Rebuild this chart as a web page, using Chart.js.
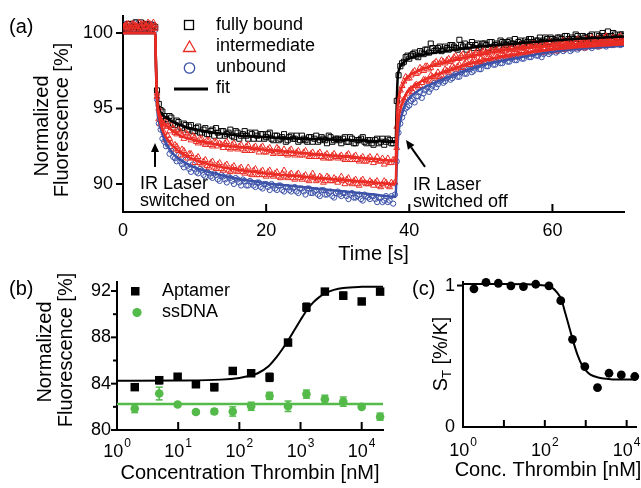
<!DOCTYPE html>
<html><head><meta charset="utf-8">
<script src="https://cdn.jsdelivr.net/npm/chart.js@4.4.1/dist/chart.umd.min.js"></script>
<style>
html,body{margin:0;padding:0;background:#fff;}
#wrap{position:relative;width:641px;height:488px;overflow:hidden;background:#fff;}
canvas{position:absolute;left:0;top:0;}
</style></head><body>
<div id="wrap">
<canvas id="ca" width="641" height="488"></canvas>
<canvas id="cb" width="641" height="488"></canvas>
<canvas id="cc" width="641" height="488"></canvas>
</div>
<script>
// ---------------- Panel (a) data ----------------
const time = [0,0.5,1,1.5,2,2.5,3,3.5,4,4.5,5,5.5,6,6.5,7,7.5,8,8.5,9,9.5,10,10.5,11,11.5,12,12.5,13,13.5,14,14.5,15,15.5,16,16.5,17,17.5,18,18.5,19,19.5,20,20.5,21,21.5,22,22.5,23,23.5,24,24.5,25,25.5,26,26.5,27,27.5,28,28.5,29,29.5,30,30.5,31,31.5,32,32.5,33,33.5,34,34.5,35,35.5,36,36.5,37,37.5,38,38.5,39,39.5,40,40.5,41,41.5,42,42.5,43,43.5,44,44.5,45,45.5,46,46.5,47,47.5,48,48.5,49,49.5,50,50.5,51,51.5,52,52.5,53,53.5,54,54.5,55,55.5,56,56.5,57,57.5,58,58.5,59,59.5,60,60.5,61,61.5,62,62.5,63,63.5,64,64.5,65,65.5,66,66.5,67,67.5,68,68.5,69,69.5,70];
const timeMid = [0.25,0.75,1.25,1.75,2.25,2.75,3.25,3.75,4.25,4.75,5.25,5.75,6.25,6.75,7.25,7.75,8.25,8.75,9.25,9.75,10.25,10.75,11.25,11.75,12.25,12.75,13.25,13.75,14.25,14.75,15.25,15.75,16.25,16.75,17.25,17.75,18.25,18.75,19.25,19.75,20.25,20.75,21.25,21.75,22.25,22.75,23.25,23.75,24.25,24.75,25.25,25.75,26.25,26.75,27.25,27.75,28.25,28.75,29.25,29.75,30.25,30.75,31.25,31.75,32.25,32.75,33.25,33.75,34.25,34.75,35.25,35.75,36.25,36.75,37.25,37.75,38.25,38.75,39.25,39.75,40.25,40.75,41.25,41.75,42.25,42.75,43.25,43.75,44.25,44.75,45.25,45.75,46.25,46.75,47.25,47.75,48.25,48.75,49.25,49.75,50.25,50.75,51.25,51.75,52.25,52.75,53.25,53.75,54.25,54.75,55.25,55.75,56.25,56.75,57.25,57.75,58.25,58.75,59.25,59.75,60.25,60.75,61.25,61.75,62.25,62.75,63.25,63.75,64.25,64.75,65.25,65.75,66.25,66.75,67.25,67.75,68.25,68.75,69.25,69.75];
const fullyBound = [100.5,100.3,100.6,100.2,100.4,100.7,100.3,100.5,100.2,100.4,
95.3,94.8,94.3,94.5,94.0,94.2,93.8,94.0,93.6,93.9,
93.5,93.8,93.4,93.7,93.3,93.6,93.7,93.2,93.5,93.3,
93.6,93.1,93.4,93.2,93.5,93.0,93.3,93.4,93.0,93.3,
93.1,93.4,92.9,93.2,93.0,93.3,92.9,93.2,93.0,92.8,
93.2,92.9,93.1,92.8,93.2,92.9,93.0,92.7,93.1,92.9,
93.0,92.7,93.1,92.8,93.0,92.7,92.9,93.1,92.7,92.9,
92.6,93.0,92.8,92.6,93.0,92.7,92.9,97.2,98.0,98.4,
98.3,98.6,98.5,98.8,98.6,98.9,99.3,98.8,99.0,98.8,
99.1,98.9,99.2,99.0,99.55,99.1,98.9,99.2,99.0,99.3,
99.1,99.3,99.0,99.4,99.2,99.1,99.4,99.2,99.5,99.3,
99.2,99.5,99.3,99.4,99.6,99.3,99.5,99.4,99.7,99.4,
99.6,99.5,99.7,99.4,99.8,99.5,99.6,99.8,99.5,99.7,
99.6,99.9,99.6,99.8,100.0,99.7,99.8,100.0,99.7,99.9,
99.8];
const fullyBoundMid = [100.3,100.6,100.4,100.7,100.3,100.5,100.6,100.2,100.5,96.2,
94.9,94.5,94.2,94.4,93.9,94.1,93.7,93.9,93.8,93.5,
93.7,93.4,93.6,93.3,93.5,93.2,93.4,93.5,93.2,93.4,
93.2,93.5,93.0,93.3,93.2,93.4,93.0,93.2,93.3,93.0,
93.3,93.0,93.2,92.9,93.1,92.8,93.1,93.0,93.2,92.9,
93.0,92.8,93.1,93.0,92.8,93.1,92.9,93.2,92.8,93.0,
92.9,93.0,92.8,93.1,92.7,92.9,93.0,92.8,92.9,92.7,
92.9,92.7,93.0,92.8,92.9,92.7,95.5,97.8,98.1,98.5,
98.5,98.7,98.4,98.7,98.9,98.7,99.0,98.9,99.1,98.9,
99.0,99.2,99.1,98.9,99.2,99.3,99.1,99.4,99.2,99.0,
99.3,99.2,99.4,99.1,99.3,99.5,99.3,99.4,99.3,99.6,
99.4,99.3,99.5,99.6,99.4,99.5,99.7,99.5,99.6,99.7,
99.5,99.7,99.6,99.8,99.6,99.7,99.9,99.6,99.8,99.7,
99.8,99.6,99.9,99.7,99.8,100.1,99.8,99.9,99.7,99.9];
const intermediate1 = [100.4,100.6,100.3,100.5,100.2,100.6,100.4,100.7,100.3,100.5,
95.0,94.0,94.1,93.5,93.7,93.3,93.5,93.0,93.3,92.9,
93.1,92.7,93.0,92.6,92.9,92.5,92.8,92.7,92.4,92.8,
92.3,92.7,92.3,92.6,92.2,92.6,92.2,92.5,92.1,92.5,
92.1,92.4,92.0,92.4,92.0,92.3,91.9,92.3,91.9,92.2,
91.9,92.2,91.8,92.1,91.8,92.1,91.7,92.0,91.7,92.0,
91.7,91.9,91.6,92.0,91.6,91.9,91.5,91.8,91.5,91.8,
91.4,91.8,91.5,91.3,91.7,91.4,91.6,95.8,96.5,97.1,
97.0,97.4,97.3,97.7,97.5,97.8,97.7,98.0,97.9,98.2,
98.0,98.3,98.2,98.5,98.3,98.6,98.4,98.7,98.5,98.8,
98.6,98.9,98.7,98.9,98.8,99.0,98.8,99.1,98.9,99.1,
98.9,99.2,99.0,99.2,99.1,99.3,99.0,99.3,99.2,99.4,
99.1,99.4,99.2,99.5,99.3,99.4,99.2,99.6,99.3,99.5,
99.4,99.7,99.3,99.6,99.4,99.8,99.5,99.7,99.4,99.8,
99.5];
const intermediate1Mid = [100.5,100.2,100.6,100.4,100.7,100.3,100.5,100.6,100.3,96.0,
94.6,93.9,93.8,93.9,93.4,93.6,93.2,93.4,93.1,93.2,
92.8,93.0,92.7,92.9,92.6,92.8,92.5,92.6,92.7,92.4,
92.6,92.4,92.5,92.3,92.5,92.2,92.4,92.3,92.4,92.1,
92.3,92.2,92.1,92.3,92.1,92.0,92.2,92.0,92.1,91.9,
92.1,91.9,92.0,91.8,92.0,91.8,91.9,91.7,91.9,91.8,
91.8,91.7,91.9,91.6,91.8,91.6,91.7,91.5,91.7,91.6,
91.6,91.5,91.7,91.5,91.4,91.6,93.8,96.2,96.8,97.0,
97.2,97.5,97.4,97.6,97.8,97.6,97.9,98.1,98.0,98.1,
98.2,98.1,98.4,98.3,98.5,98.4,98.6,98.5,98.7,98.6,
98.8,98.7,98.8,99.0,98.9,98.8,99.0,99.1,99.0,98.9,
99.1,99.0,99.2,99.1,99.3,99.2,99.1,99.3,99.2,99.4,
99.3,99.3,99.4,99.3,99.5,99.4,99.3,99.5,99.4,99.6,
99.5,99.4,99.6,99.5,99.7,99.5,99.6,99.5,99.7,99.6];
const intermediate2 = [100.3,100.5,100.2,100.6,100.4,100.3,100.6,100.2,100.5,100.3,
94.3,93.8,92.9,93.0,92.3,92.5,91.9,92.2,91.7,92.0,
91.4,91.8,91.3,91.6,91.1,91.5,91.0,91.4,90.9,91.3,
90.8,91.2,90.8,91.1,90.7,91.1,90.6,91.0,90.6,90.9,
90.5,90.9,90.5,90.8,90.4,90.9,90.4,90.7,90.3,90.7,
90.3,90.6,90.2,90.7,90.2,90.5,90.1,90.5,90.2,90.4,
90.1,90.5,90.0,90.4,90.0,90.3,89.9,90.3,90.0,90.2,
89.9,90.2,89.8,90.2,89.9,90.1,90.1,94.4,95.4,95.7,
96.2,96.1,96.6,96.5,96.9,96.8,97.2,97.0,97.4,97.2,
97.6,97.4,97.8,97.6,97.9,97.7,98.1,97.9,98.2,98.0,
98.3,98.1,98.4,98.2,98.5,98.3,98.6,98.4,98.7,98.4,
98.7,98.5,98.8,98.6,98.9,98.7,99.0,98.7,99.0,98.8,
99.1,98.8,99.1,98.9,99.2,99.0,99.2,99.0,99.3,99.0,
99.3,99.1,99.4,99.1,99.4,99.2,99.5,99.2,99.5,99.3,
99.4];
const intermediate2Mid = [100.4,100.6,100.3,100.5,100.2,100.6,100.4,100.3,100.7,95.8,
94.0,93.4,93.2,92.7,92.6,92.2,92.3,91.9,92.0,91.7,
91.7,91.4,91.5,91.2,91.4,91.1,91.3,91.0,91.2,90.9,
91.1,90.9,91.0,90.8,90.9,90.7,90.9,90.6,90.8,90.6,
90.8,90.6,90.7,90.5,90.7,90.5,90.6,90.4,90.6,90.4,
90.5,90.3,90.5,90.4,90.3,90.4,90.2,90.4,90.2,90.3,
90.3,90.2,90.3,90.1,90.2,90.0,90.2,90.1,90.0,90.1,
90.1,89.9,90.0,90.1,89.8,90.0,92.4,95.0,95.6,96.0,
96.3,96.5,96.4,96.7,96.9,96.8,97.1,97.2,97.1,97.4,
97.5,97.6,97.7,97.8,97.7,98.0,97.9,98.1,98.2,98.1,
98.2,98.4,98.3,98.5,98.4,98.6,98.5,98.6,98.5,98.7,
98.6,98.8,98.7,98.8,98.7,98.9,98.8,99.0,98.9,99.0,
98.9,99.1,99.0,99.1,99.0,99.2,99.1,99.2,99.1,99.3,
99.2,99.3,99.2,99.4,99.3,99.4,99.3,99.5,99.3,99.4];
const unbound = [100.4,100.2,100.5,100.3,100.6,100.2,100.4,100.3,100.6,100.2,
94.0,93.0,92.5,92.0,91.8,91.5,91.5,91.1,91.2,90.8,
91.0,90.7,90.9,90.5,90.7,90.4,90.6,90.2,90.5,90.1,
90.4,90.0,90.3,89.9,90.2,89.9,90.1,89.8,90.1,89.7,
90.0,89.6,89.9,89.6,89.9,89.5,89.8,89.5,89.8,89.4,
89.7,89.3,89.7,89.4,89.6,89.2,89.6,89.3,89.5,89.1,
89.5,89.2,89.4,89.0,89.4,89.1,89.3,88.9,89.2,89.0,
89.2,88.8,89.1,88.9,88.8,89.2,89.3,93.4,94.4,95.0,
95.2,95.6,95.8,96.1,96.0,96.4,96.3,96.7,96.6,96.9,
96.8,97.1,97.0,97.3,97.1,97.5,97.3,97.6,97.5,97.8,
97.6,98.0,97.8,98.1,97.9,98.2,98.0,98.3,98.1,98.4,
98.2,98.5,98.3,98.6,98.4,98.7,98.5,98.4,98.7,98.6,
98.8,98.7,98.9,98.8,99.0,98.8,99.1,98.9,99.1,99.0,
99.2,99.0,99.2,99.1,99.3,99.1,99.3,99.2,99.4,99.2,
99.3];
const unboundMid = [100.6,100.3,100.4,100.7,100.2,100.5,100.3,100.6,100.4,95.6,
93.6,92.8,92.6,92.2,91.7,91.9,91.3,91.6,91.0,91.3,
90.8,91.0,90.6,90.8,90.5,90.7,90.3,90.6,90.3,90.5,
90.2,90.4,90.1,90.3,89.9,90.2,89.9,90.1,89.8,90.0,
89.8,90.0,89.7,89.9,89.6,89.8,89.6,89.7,89.5,89.7,
89.5,89.7,89.4,89.5,89.3,89.6,89.3,89.4,89.2,89.4,
89.3,89.4,89.2,89.3,89.1,89.2,89.0,89.3,89.1,89.2,
89.0,89.1,88.8,89.2,88.9,88.7,91.5,94.0,94.7,95.1,
95.5,95.4,95.8,95.7,96.2,96.1,96.5,96.4,96.8,96.7,
97.0,96.9,97.2,97.1,97.4,97.3,97.6,97.4,97.7,97.6,
97.9,97.8,98.0,97.9,98.1,98.0,98.2,98.1,98.3,98.2,
98.4,98.3,98.5,98.4,98.6,98.5,98.7,98.6,98.8,98.7,
98.9,98.8,99.0,98.9,99.0,98.9,99.1,99.0,99.2,99.1,
99.1,99.2,99.1,99.3,99.2,99.3,99.2,99.4,99.3,99.4];
const fitTime = [0,4.5,4.6,4.7,4.85,5,5.5,6,7,8,10,12,14,16,18,20,25,30,35,38.1,38.2,38.35,38.6,39,39.6,41,43,45,50,55,60,65,70];
const fitBound = [100,100,98.2,96.5,95.5,95.05,94.6,94.4,94.1,93.9,93.6,93.45,93.32,93.22,93.15,93.1,93.0,92.93,92.85,92.8,94.5,96.8,97.6,97.95,98.2,98.45,98.65,98.8,99.1,99.3,99.5,99.65,99.77];
const fitInter1 = [100,100,98.0,96.3,95.2,94.8,94.2,93.9,93.5,93.2,92.9,92.7,92.55,92.45,92.35,92.25,92.05,91.85,91.65,91.55,93.0,95.0,95.9,96.45,97.0,97.45,97.8,98.05,98.6,98.95,99.15,99.3,99.4];
const fitInter2 = [100,100,97.9,96.0,94.9,94.5,93.6,93.1,92.5,92.1,91.6,91.3,91.1,90.95,90.82,90.7,90.5,90.3,90.1,90.0,91.5,93.5,94.6,95.3,96.0,96.6,97.1,97.45,98.15,98.6,98.9,99.1,99.25];
const fitUnbound = [100,100,97.8,95.8,94.6,94.2,93.3,92.7,92.0,91.6,91.1,90.8,90.55,90.35,90.2,90.05,89.8,89.55,89.3,89.15,90.5,92.5,93.8,94.65,95.45,96.1,96.6,97.0,97.85,98.35,98.75,99.0,99.15];
const xTicksA = [0,20,40,60];
const yTicksA = [90,95,100];

// ---------------- Panel (b) data ----------------
const concB = [1.95,4.9,9.8,19.5,39,78,156,312,625,1250,2500,5000,10000,20000];
const aptamer = [83.7,84.3,84.6,83.95,83.7,85.1,84.9,84.55,87.55,90.6,91.95,91.6,91.1,91.95];
const aptamerErr = [0.2,0.3,0.15,0.15,0.3,0.1,0.15,0.35,0.25,0.35,0.15,0.3,0.15,0.15];
const ssDNA = [81.85,83.15,82.2,81.55,81.6,81.6,82.05,82.95,82.05,83.1,82.65,82.45,82.0,81.15];
const ssDNAErr = [0.35,0.55,0.15,0.15,0.2,0.4,0.35,0.3,0.45,0.35,0.35,0.4,0.15,0.3];
const fitConcB = [1,10,50,100,150,200,300,400,500,630,800,1000,1250,1600,2000,2500,3500,5000,10000,22300];
const aptamerFit = [84.25,84.27,84.35,84.5,84.68,84.9,85.5,86.25,86.95,87.75,88.65,89.5,90.3,91.0,91.45,91.8,92.1,92.27,92.36,92.38];
const ssFitConc = [1,22300];
const ssDNAFit = [82.25,82.25];
const yTicksB = [80,84,88,92];
const yMinorB = [82,86,90];
const xExpB = [0,1,2,3,4];

// ---------------- Panel (c) data ----------------
const concC = [1.85,3.65,7.3,14.8,30,60,126,245,475,950,1940,3700,7400,15800];
const soretST = [0.977,1.023,1.016,0.998,0.993,1.009,0.998,0.893,0.62,0.427,0.278,0.38,0.368,0.357];
const fitConcC = [1,10,50,100,150,200,250,320,400,500,630,800,1000,1300,2000,4000,10000,17500];
const soretFit = [1.01,1.01,1.008,1.0,0.985,0.95,0.905,0.8,0.7,0.6,0.51,0.44,0.4,0.37,0.35,0.338,0.335,0.335];
const xExpC = [0,2,4];
const xTickExpC = [1,2,3,4];

// ---------------- styling ----------------
const RED = 'rgb(234,44,36)';
const BLUE = 'rgb(60,82,168)';
const GREEN = 'rgb(84,186,74)';
const FONT = '"Liberation Sans", Arial, Helvetica, sans-serif';

function pts(xs, ys){ return xs.map((v,i)=>({x:v, y:ys[i]})); }
function setFont(ctx,s){ ctx.font = s+'px '+FONT; }
function text(ctx,s,x,y,size,align,base){ setFont(ctx,size); ctx.fillStyle='#000'; ctx.textAlign=align||'center'; ctx.textBaseline=base||'middle'; ctx.fillText(s,x,y); }
function vtext(ctx,s,cx,cy,size){ ctx.save(); ctx.translate(cx,cy); ctx.rotate(-Math.PI/2); text(ctx,s,0,0,size,'center','middle'); ctx.restore(); }
function seg(ctx,x1,y1,x2,y2,w,c){ ctx.beginPath(); ctx.moveTo(x1,y1); ctx.lineTo(x2,y2); ctx.lineWidth=w; ctx.strokeStyle=c||'#000'; ctx.stroke(); }
function powLabel(ctx,exp,cx,cy,size){
  setFont(ctx,size); const w1=ctx.measureText('10').width;
  const ss=Math.round(size*0.68); setFont(ctx,ss); const w2=ctx.measureText(String(exp)).width;
  const x0=cx-(w1+w2+1)/2;
  ctx.fillStyle='#000'; ctx.textAlign='left'; ctx.textBaseline='alphabetic';
  setFont(ctx,size); ctx.fillText('10',x0,cy+size*0.36);
  setFont(ctx,ss); ctx.fillText(String(exp),x0+w1+1,cy-size*0.2);
}
function arrow(ctx,x1,y1,x2,y2){
  const ang=Math.atan2(y2-y1,x2-x1), hl=9, hw=4;
  const bx=x2-Math.cos(ang)*hl, by=y2-Math.sin(ang)*hl;
  seg(ctx,x1,y1,bx,by,2);
  ctx.beginPath(); ctx.moveTo(x2,y2);
  ctx.lineTo(bx+Math.sin(ang)*hw, by-Math.cos(ang)*hw);
  ctx.lineTo(bx-Math.sin(ang)*hw, by+Math.cos(ang)*hw);
  ctx.closePath(); ctx.fillStyle='#000'; ctx.fill();
}
function scaleCfg(type,min,max,horiz){
  return {type, min, max, ticks:{display:false}, grid:{display:false},
    border:{display:true,color:'#000',width:2},
    afterFit(s){ if(horiz) s.height=0; else s.width=0; }};
}
const baseOpts = (pad)=>({responsive:false, animation:false, events:[], devicePixelRatio:1,
  layout:{padding:pad}, plugins:{legend:{display:false}, tooltip:{enabled:false}}});

// annotation positions in data units (panel a)
const annotOn = {x:4.47, yTail:91.13, yHead:92.72, textX:2.38, line1:89.67, line2:88.54};
const annotOff = {xTail:42.2, yTail:91.13, xHead:39.54, yHead:92.91, textX:40.52, line1:89.6, line2:88.5};

// ---------------- Chart (a) ----------------
const decoA = {id:'decoA', afterDraw(chart){
  const {ctx, chartArea:a, scales:{x,y}} = chart; ctx.save();
  yTicksA.forEach(v=>{ const py=y.getPixelForValue(v); seg(ctx,a.left-7,py,a.left,py,2); text(ctx,String(v),a.left-10,py,18,'right','middle'); });
  xTicksA.forEach(v=>{ const px=x.getPixelForValue(v); if(v!==0) seg(ctx,px,a.bottom,px,a.bottom-8,2); text(ctx,String(v),px,231,18,'center','middle'); });
  text(ctx,'Time [s]',(a.left+a.right)/2,254,20,'center','middle');
  vtext(ctx,'Normalized',42,126,20);
  vtext(ctx,'Fluorescence [%]',62,120,20);
  text(ctx,'(a)',9,27,20,'left','middle');
  // legend
  ctx.lineWidth=1.3; ctx.strokeStyle='#000'; ctx.strokeRect(184.5,20.5,9,9);
  ctx.strokeStyle=RED; ctx.beginPath(); ctx.moveTo(189.5,41); ctx.lineTo(183.5,51.5); ctx.lineTo(195.5,51.5); ctx.closePath(); ctx.stroke();
  ctx.strokeStyle=BLUE; ctx.beginPath(); ctx.arc(189.5,68,5.2,0,Math.PI*2); ctx.stroke();
  seg(ctx,174,89,208,89,3);
  text(ctx,'fully bound',216,25,18,'left','middle');
  text(ctx,'intermediate',216,46,18,'left','middle');
  text(ctx,'unbound',216,67,18,'left','middle');
  text(ctx,'fit',216,88,18,'left','middle');
  // annotations
  arrow(ctx,x.getPixelForValue(annotOn.x),y.getPixelForValue(annotOn.yTail),x.getPixelForValue(annotOn.x),y.getPixelForValue(annotOn.yHead));
  arrow(ctx,x.getPixelForValue(annotOff.xTail),y.getPixelForValue(annotOff.yTail),x.getPixelForValue(annotOff.xHead),y.getPixelForValue(annotOff.yHead));
  text(ctx,'IR Laser',x.getPixelForValue(annotOn.textX),y.getPixelForValue(annotOn.line1),18,'left','alphabetic');
  text(ctx,'switched on',x.getPixelForValue(annotOn.textX),y.getPixelForValue(annotOn.line2),18,'left','alphabetic');
  text(ctx,'IR Laser',x.getPixelForValue(annotOff.textX),y.getPixelForValue(annotOff.line1),18,'left','alphabetic');
  text(ctx,'switched off',x.getPixelForValue(annotOff.textX),y.getPixelForValue(annotOff.line2),18,'left','alphabetic');
  ctx.restore();
}};
const fitLine = (data,color,order)=>({type:'line', data, borderColor:color, borderWidth:2.5, pointRadius:0, fill:false, cubicInterpolationMode:'monotone', order});
const markers = (data,color,style,r,order)=>({type:'scatter', data, pointStyle:style, pointRadius:r, borderColor:color, backgroundColor:'rgba(0,0,0,0)', pointBorderWidth:1, borderWidth:1, order});
new Chart(document.getElementById('ca'), {
  type:'scatter',
  data:{datasets:[
    fitLine(pts(fitTime,fitInter1),RED,0),
    fitLine(pts(fitTime,fitInter2),RED,1),
    fitLine(pts(fitTime,fitBound),'#000',2),
    fitLine(pts(fitTime,fitUnbound),BLUE,3),
    markers(pts(time,intermediate1).concat(pts(timeMid,intermediate1Mid)),RED,'triangle',3.4,4),
    markers(pts(time,intermediate2).concat(pts(timeMid,intermediate2Mid)),RED,'triangle',3.4,5),
    markers(pts(time,fullyBound).concat(pts(timeMid,fullyBoundMid)),'#000','rect',3.6,6),
    markers(pts(time,unbound).concat(pts(timeMid,unboundMid)),BLUE,'circle',2.6,7)
  ]},
  options:Object.assign(baseOpts({left:123,top:16,right:17,bottom:276}),{
    scales:{x:scaleCfg('linear',0,70,true), y:scaleCfg('linear',88.146,101.126,false)}}),
  plugins:[decoA]
});

// ---------------- Chart (b) ----------------
const decoB = {id:'decoB',
  beforeDatasetsDraw(chart){
    const {ctx, scales:{x,y}} = chart; ctx.save();
    const bars=(vals,errs,col)=>vals.forEach((v,i)=>{ if(errs[i]<=0) return; const px=x.getPixelForValue(concB[i]);
      const p1=y.getPixelForValue(v-errs[i]), p2=y.getPixelForValue(v+errs[i]);
      seg(ctx,px,p1,px,p2,1.5,col); seg(ctx,px-3.5,p1,px+3.5,p1,1.5,col); seg(ctx,px-3.5,p2,px+3.5,p2,1.5,col); });
    bars(ssDNA,ssDNAErr,GREEN); bars(aptamer,aptamerErr,'#000');
    ctx.restore();
  },
  afterDraw(chart){
    const {ctx, chartArea:a, scales:{x,y}} = chart; ctx.save();
    yTicksB.forEach(v=>{ const py=y.getPixelForValue(v); seg(ctx,a.left-6,py,a.left,py,2); text(ctx,String(v),a.left-6,py,18,'right','middle'); });
    yMinorB.forEach(v=>{ const py=y.getPixelForValue(v); seg(ctx,a.left-4,py,a.left,py,2); });
    xExpB.forEach(e=>{ const px=x.getPixelForValue(Math.pow(10,e)); if(e>0) seg(ctx,px,a.bottom,px,a.bottom-8,2); powLabel(ctx,e,px,451,18); });
    text(ctx,'Concentration Thrombin [nM]',(a.left+a.right)/2,473,20,'center','middle');
    vtext(ctx,'Normalized',45,352,20);
    vtext(ctx,'Fluorescence [%]',66,350,20);
    text(ctx,'(b)',9,289,20,'left','middle');
    ctx.fillStyle='#000'; ctx.fillRect(131,287,8.5,8.5);
    ctx.fillStyle=GREEN; ctx.beginPath(); ctx.arc(137,312.5,4.6,0,Math.PI*2); ctx.fill();
    text(ctx,'Aptamer',162,291,18,'left','middle');
    text(ctx,'ssDNA',162,312,18,'left','middle');
    ctx.restore();
  }};
new Chart(document.getElementById('cb'), {
  type:'scatter',
  data:{datasets:[
    {type:'scatter', data:pts(concB,aptamer), pointStyle:'rect', pointRadius:6, backgroundColor:'#000', borderColor:'#000', borderWidth:0, clip:false, order:0},
    {type:'scatter', data:pts(concB,ssDNA), pointStyle:'circle', pointRadius:4.3, backgroundColor:GREEN, borderColor:GREEN, borderWidth:0, clip:false, order:1},
    {type:'line', data:pts(fitConcB,aptamerFit), borderColor:'#000', borderWidth:2, pointRadius:0, fill:false, cubicInterpolationMode:'monotone', order:2},
    {type:'line', data:pts(ssFitConc,ssDNAFit), borderColor:GREEN, borderWidth:2.5, pointRadius:0, fill:false, order:3}
  ]},
  options:Object.assign(baseOpts({left:117,top:282,right:258,bottom:58}),{
    scales:{x:scaleCfg('logarithmic',1,22300,true), y:scaleCfg('linear',80,92.78,false)}}),
  plugins:[decoB]
});

// ---------------- Chart (c) ----------------
const decoC = {id:'decoC', afterDraw(chart){
  const {ctx, chartArea:a, scales:{x,y}} = chart; ctx.save();
  const p1=y.getPixelForValue(1); seg(ctx,a.left-6,p1,a.left,p1,2);
  text(ctx,'1',a.left-8,p1,18,'right','middle');
  text(ctx,'0',a.left-8,y.getPixelForValue(0),18,'right','middle');
  xTickExpC.forEach(e=>{ const px=x.getPixelForValue(Math.pow(10,e)); seg(ctx,px,a.bottom,px,a.bottom-7,2); });
  xExpC.forEach(e=>{ powLabel(ctx,e,x.getPixelForValue(Math.pow(10,e)),450,18); });
  text(ctx,'Conc. Thrombin [nM]',548,470,20,'center','middle');
  text(ctx,'(c)',412,289,20,'left','middle');
  // y title S_T [%/K]
  ctx.save(); ctx.translate(440,354); ctx.rotate(-Math.PI/2);
  setFont(ctx,20); const wS=ctx.measureText('S').width, wR=ctx.measureText(' [%/K]').width;
  setFont(ctx,13); const wT=ctx.measureText('T').width;
  let x0=-(wS+wT+wR)/2; ctx.fillStyle='#000'; ctx.textAlign='left'; ctx.textBaseline='alphabetic';
  setFont(ctx,20); ctx.fillText('S',x0,7);
  setFont(ctx,13); ctx.fillText('T',x0+wS,11);
  setFont(ctx,20); ctx.fillText(' [%/K]',x0+wS+wT,7);
  ctx.restore();
  ctx.restore();
}};
new Chart(document.getElementById('cc'), {
  type:'scatter',
  data:{datasets:[
    {type:'scatter', data:pts(concC,soretST), pointStyle:'circle', pointRadius:4.4, backgroundColor:'#000', borderColor:'#000', borderWidth:0, clip:false, order:0},
    {type:'line', data:pts(fitConcC,soretFit), borderColor:'#000', borderWidth:2, pointRadius:0, fill:false, cubicInterpolationMode:'monotone', order:1}
  ]},
  options:Object.assign(baseOpts({left:463,top:282,right:4,bottom:61}),{
    scales:{x:scaleCfg('logarithmic',1,17500,true), y:scaleCfg('linear',0,1.025,false)}}),
  plugins:[decoC]
});
</script>
</body></html>
